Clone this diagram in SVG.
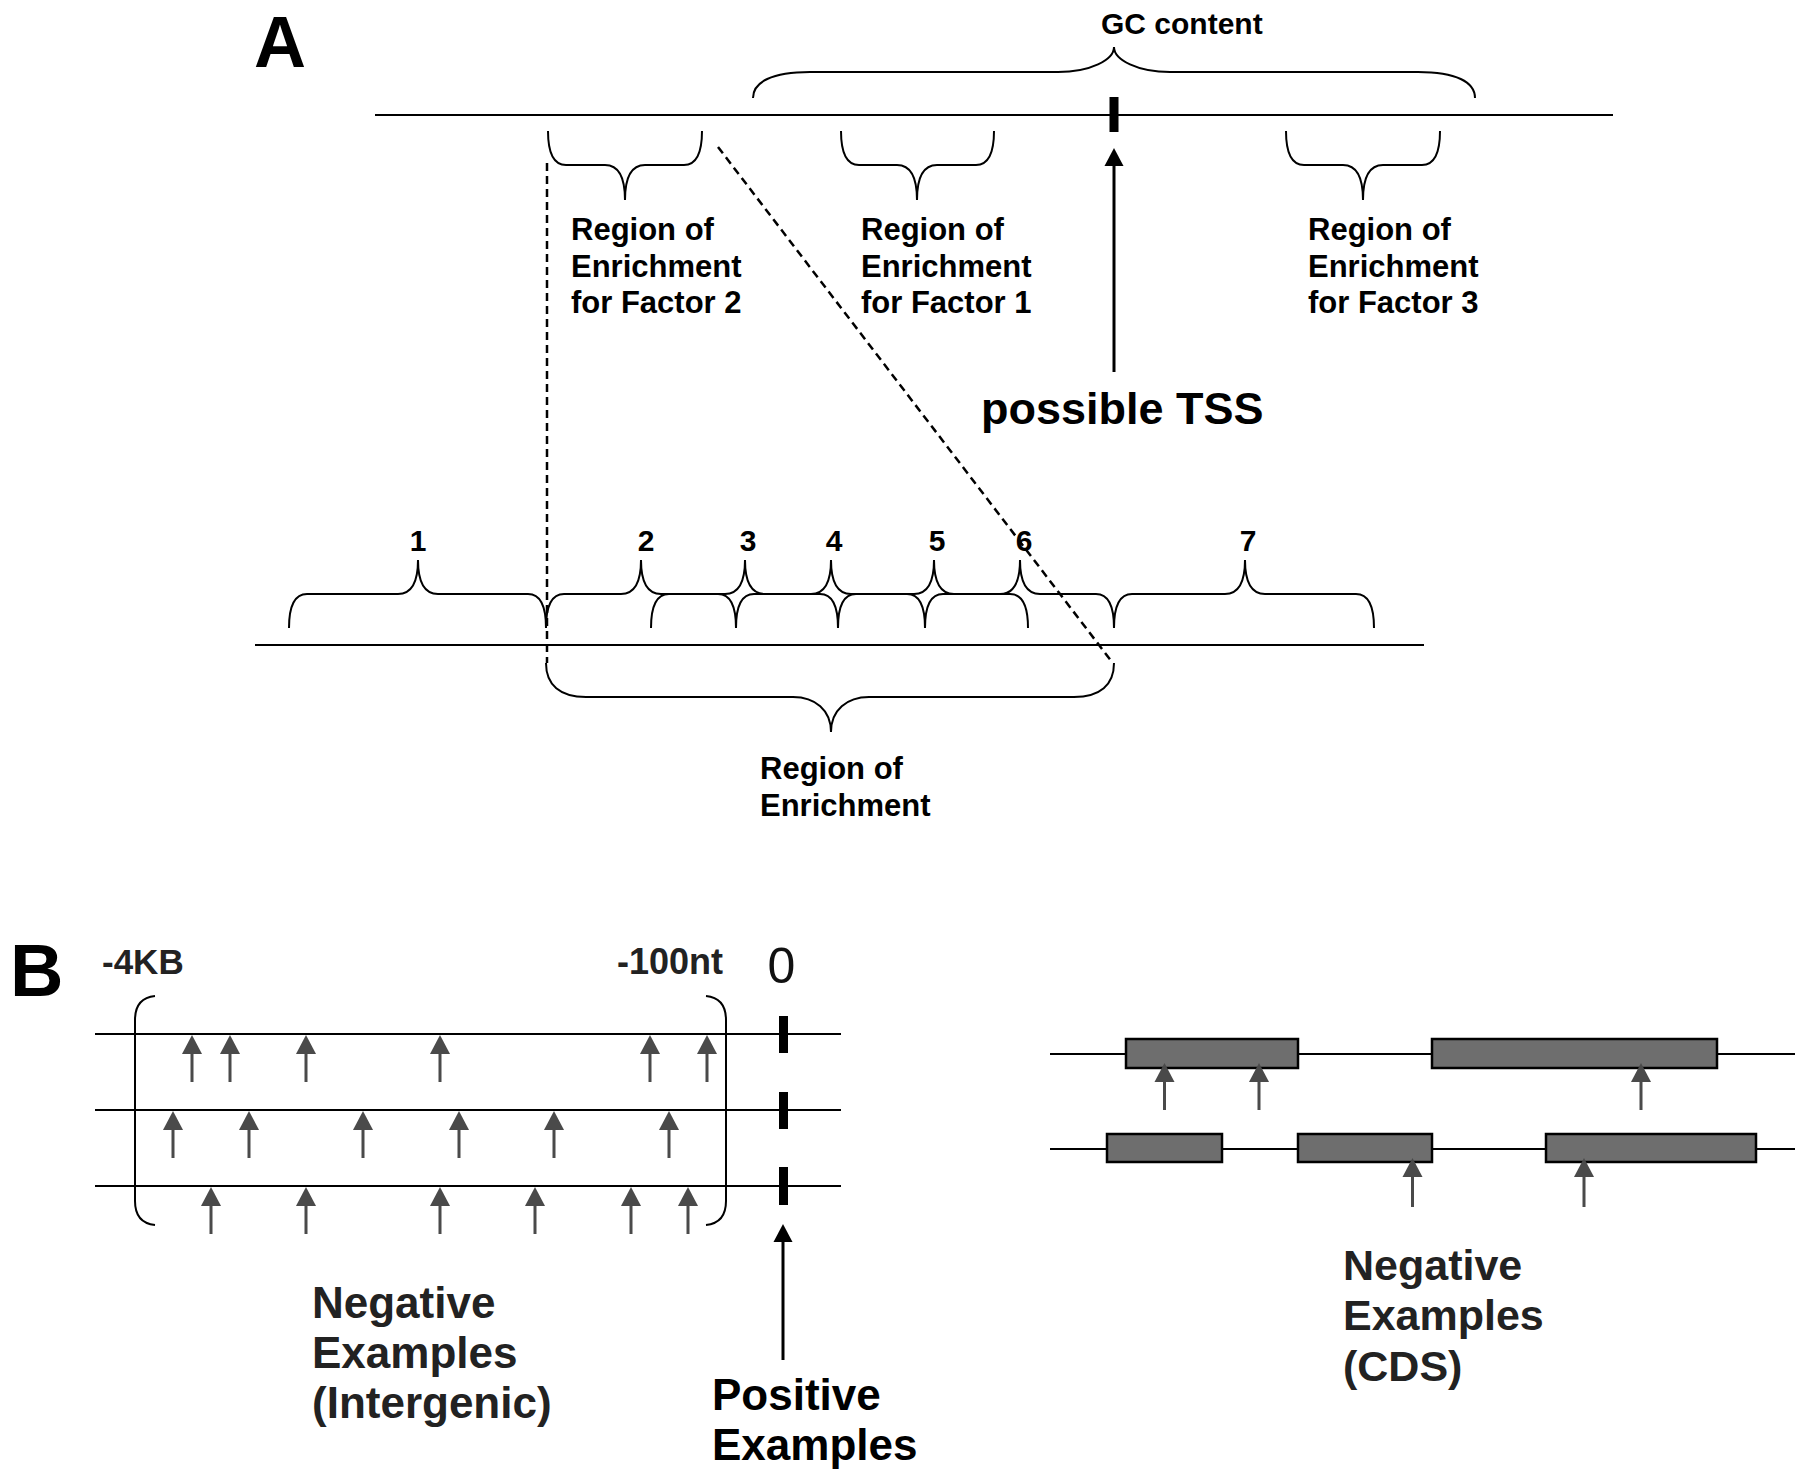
<svg xmlns="http://www.w3.org/2000/svg" xmlns:xlink="http://www.w3.org/1999/xlink" width="1800" height="1480" viewBox="0 0 1800 1480">
<style>
.t{font-family:"Liberation Sans",Arial,sans-serif;font-weight:bold;fill:#000}
.tb{font-family:"Liberation Sans",Arial,sans-serif;font-weight:bold;fill:#222}
.ln{stroke:#000;stroke-width:2.2;fill:none}
.br{stroke:#000;stroke-width:2;fill:none}
.ds{stroke:#000;stroke-width:2.5;fill:none;stroke-dasharray:8 5}
.ga{stroke:#4a4a4a;stroke-width:3;fill:none}
.box{fill:#6e6e6e;stroke:#000;stroke-width:2.5}
</style>
<defs>
<path id="gh" d="M0,0 L-10,19 L10,19 Z" fill="#4a4a4a"/>
<path id="bh" d="M0,0 L-9.5,18 L9.5,18 Z" fill="#000"/>
</defs>
<rect x="0" y="0" width="1800" height="1480" fill="#fff"/>

<g id="panelA-label"><text class="t" x="254" y="67" font-size="72">A</text></g>

<g id="top-line">
<line class="ln" x1="375" y1="115" x2="1613" y2="115"/>
<rect x="1109.5" y="97" width="9" height="35" fill="#000"/>
</g>

<g id="gc-content">
<path class="br" d="M753,98 C753,82 772,72 810,72 L1058,72 C1090,72 1114,60 1114,47 C1114,60 1138,72 1170,72 L1418,72 C1456,72 1475,82 1475,98"/>
<text class="t" x="1101" y="34" font-size="30">GC content</text>
</g>

<g id="factor2">
<path class="br" d="M548,131 Q548,165 566,165 L605,165 Q625,165 625,200 Q625,165 645,165 L684,165 Q702,165 702,131"/>
<text class="t" font-size="31"><tspan x="571" y="240">Region of</tspan><tspan x="571" y="277">Enrichment</tspan><tspan x="571" y="313">for Factor 2</tspan></text>
</g>

<g id="factor1">
<path class="br" d="M841,131 Q841,165 859,165 L897,165 Q917,165 917,200 Q917,165 937,165 L976,165 Q994,165 994,131"/>
<text class="t" font-size="31"><tspan x="861" y="240">Region of</tspan><tspan x="861" y="277">Enrichment</tspan><tspan x="861" y="313">for Factor 1</tspan></text>
</g>

<g id="factor3">
<path class="br" d="M1286,131 Q1286,165 1304,165 L1343,165 Q1363,165 1363,200 Q1363,165 1383,165 L1422,165 Q1440,165 1440,131"/>
<text class="t" font-size="31"><tspan x="1308" y="240">Region of</tspan><tspan x="1308" y="277">Enrichment</tspan><tspan x="1308" y="313">for Factor 3</tspan></text>
</g>

<g id="tss">
<line x1="1114" y1="372" x2="1114" y2="162" stroke="#000" stroke-width="3"/>
<use xlink:href="#bh" x="1114" y="148"/>
<text class="t" x="981" y="424" font-size="45">possible TSS</text>
</g>

<g id="connectors">
<line class="ds" x1="547" y1="163" x2="547" y2="663"/>
<line class="ds" x1="718" y1="147" x2="1112" y2="662"/>
</g>

<g id="zoom-line">
<line class="ln" x1="255" y1="645" x2="1424" y2="645"/>
</g>

<g id="windows">
<path class="br" d="M289,628 Q289,594 307,594 L398,594 Q418,594 418,560 Q418,594 438,594 L528,594 Q546,594 546,628"/>
<path class="br" d="M546,628 Q546,594 564,594 L621,594 Q641,594 641,560 Q641,594 661,594 L718,594 Q736,594 736,628"/>
<path class="br" d="M651,628 Q651,594 669,594 L725,594 Q745,594 745,560 Q745,594 765,594 L820,594 Q838,594 838,628"/>
<path class="br" d="M736,628 Q736,594 754,594 L811,594 Q831,594 831,560 Q831,594 851,594 L907,594 Q925,594 925,628"/>
<path class="br" d="M838,628 Q838,594 856,594 L914,594 Q934,594 934,560 Q934,594 954,594 L1010,594 Q1028,594 1028,628"/>
<path class="br" d="M925,628 Q925,594 943,594 L1000,594 Q1020,594 1020,560 Q1020,594 1040,594 L1096,594 Q1114,594 1114,628"/>
<path class="br" d="M1114,628 Q1114,594 1132,594 L1225,594 Q1245,594 1245,560 Q1245,594 1265,594 L1356,594 Q1374,594 1374,628"/>
<g class="t" font-size="30" text-anchor="middle">
<text x="418" y="551">1</text>
<text x="646" y="551">2</text>
<text x="748" y="551">3</text>
<text x="834" y="551">4</text>
<text x="937" y="551">5</text>
<text x="1024" y="551">6</text>
<text x="1248" y="551">7</text>
</g>
</g>

<g id="region-enrichment">
<path class="br" d="M546,663 C546,685 560,697 586,697 L793,697 C815,697 831,710 831,732 C831,710 847,697 869,697 L1074,697 C1100,697 1114,685 1114,663"/>
<text class="t" font-size="31"><tspan x="760" y="779">Region of</tspan><tspan x="760" y="816">Enrichment</tspan></text>
</g>

<g id="panelB-label"><text class="t" x="10" y="996" font-size="74">B</text></g>

<g id="intergenic">
<text class="tb" x="102" y="974" font-size="35">-4KB</text>
<text class="tb" x="617" y="974" font-size="36">-100nt</text>
<text x="781.5" y="983" font-size="50" text-anchor="middle" font-family="Liberation Sans, Arial, sans-serif" fill="#111">0</text>
<path class="br" d="M155,996 Q135,998 135,1020 L135,1201 Q135,1223 155,1225"/>
<path class="br" d="M706,996 Q726,998 726,1020 L726,1201 Q726,1223 706,1225"/>
<line class="ln" x1="95" y1="1034" x2="841" y2="1034"/>
<line class="ln" x1="95" y1="1110" x2="841" y2="1110"/>
<line class="ln" x1="95" y1="1186" x2="841" y2="1186"/>
<rect x="779" y="1016" width="9" height="37" fill="#000"/>
<rect x="779" y="1092" width="9" height="37" fill="#000"/>
<rect x="779" y="1167" width="9" height="38" fill="#000"/>
<g class="ga">
<path d="M192,1082V1050M230,1082V1050M306,1082V1050M440,1082V1050M650,1082V1050M707,1082V1050"/>
<path d="M173,1158V1126M249,1158V1126M363,1158V1126M459,1158V1126M554,1158V1126M669,1158V1126"/>
<path d="M211,1234V1202M306,1234V1202M440,1234V1202M535,1234V1202M631,1234V1202M688,1234V1202"/>
</g>
<use xlink:href="#gh" x="192" y="1035"/><use xlink:href="#gh" x="230" y="1035"/><use xlink:href="#gh" x="306" y="1035"/><use xlink:href="#gh" x="440" y="1035"/><use xlink:href="#gh" x="650" y="1035"/><use xlink:href="#gh" x="707" y="1035"/>
<use xlink:href="#gh" x="173" y="1111"/><use xlink:href="#gh" x="249" y="1111"/><use xlink:href="#gh" x="363" y="1111"/><use xlink:href="#gh" x="459" y="1111"/><use xlink:href="#gh" x="554" y="1111"/><use xlink:href="#gh" x="669" y="1111"/>
<use xlink:href="#gh" x="211" y="1187"/><use xlink:href="#gh" x="306" y="1187"/><use xlink:href="#gh" x="440" y="1187"/><use xlink:href="#gh" x="535" y="1187"/><use xlink:href="#gh" x="631" y="1187"/><use xlink:href="#gh" x="688" y="1187"/>
<text class="tb" font-size="44"><tspan x="312" y="1318">Negative</tspan><tspan x="312" y="1368">Examples</tspan><tspan x="312" y="1418">(Intergenic)</tspan></text>
</g>

<g id="positive">
<line x1="783" y1="1360" x2="783" y2="1238" stroke="#000" stroke-width="3"/>
<use xlink:href="#bh" x="783" y="1224"/>
<text class="t" font-size="44"><tspan x="712" y="1410">Positive</tspan><tspan x="712" y="1460">Examples</tspan></text>
</g>

<g id="cds">
<line class="ln" x1="1050" y1="1054" x2="1795" y2="1054"/>
<line class="ln" x1="1050" y1="1149" x2="1795" y2="1149"/>
<rect class="box" x="1126" y="1039" width="172" height="29"/>
<rect class="box" x="1432" y="1039" width="285" height="29"/>
<rect class="box" x="1107" y="1134" width="115" height="28"/>
<rect class="box" x="1298" y="1134" width="134" height="28"/>
<rect class="box" x="1546" y="1134" width="210" height="28"/>
<g class="ga">
<path d="M1164.5,1110V1078M1259,1110V1078M1641,1110V1078"/>
<path d="M1412.5,1207V1173M1584,1207V1173"/>
</g>
<use xlink:href="#gh" x="1164.5" y="1063"/><use xlink:href="#gh" x="1259" y="1063"/><use xlink:href="#gh" x="1641" y="1063"/>
<use xlink:href="#gh" x="1412.5" y="1158"/><use xlink:href="#gh" x="1584" y="1158"/>
<text class="tb" font-size="43"><tspan x="1343" y="1280">Negative</tspan><tspan x="1343" y="1330">Examples</tspan><tspan x="1343" y="1381">(CDS)</tspan></text>
</g>
</svg>
